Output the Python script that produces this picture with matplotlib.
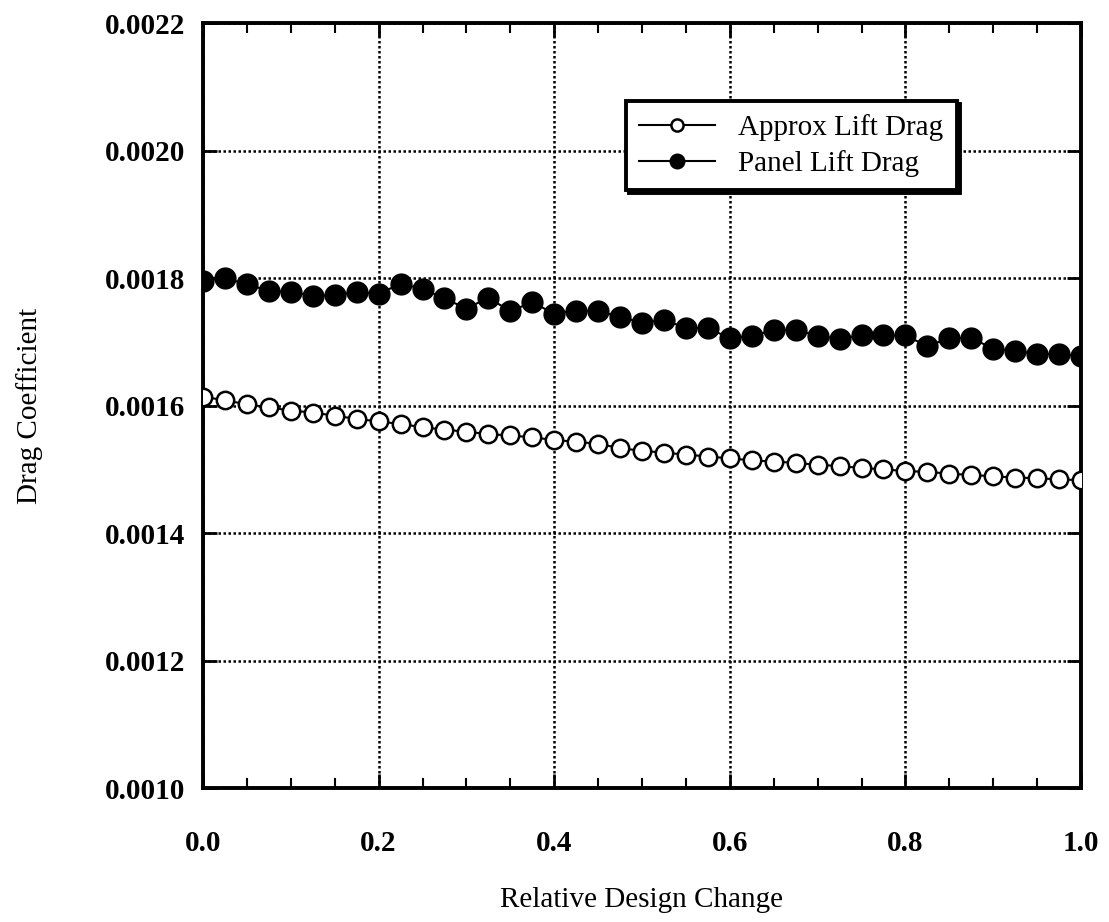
import numpy as np
import matplotlib
matplotlib.use("Agg")
from matplotlib import pyplot as plt
from matplotlib.ticker import MultipleLocator

# relative design change, 41 steps
x = np.linspace(0.0, 1.0, 41)

approx_lift_drag = [
    0.001614, 0.001608, 0.001602, 0.001597, 0.001592, 0.001589, 0.001584,
    0.001579, 0.001575, 0.001571, 0.001566, 0.001562, 0.001559, 0.001555,
    0.001553, 0.001550, 0.001546, 0.001543, 0.001540, 0.001533, 0.001529,
    0.001526, 0.001523, 0.001520, 0.001517, 0.001514, 0.001512, 0.001510,
    0.001507, 0.001505, 0.001502, 0.001500, 0.001497, 0.001496, 0.001493,
    0.001491, 0.001489, 0.001487, 0.001486, 0.001484, 0.001483,
]

panel_lift_drag = [
    0.001796, 0.001800, 0.001790, 0.001780, 0.001778, 0.001772, 0.001773,
    0.001778, 0.001775, 0.001791, 0.001783, 0.001768, 0.001752, 0.001769,
    0.001748, 0.001762, 0.001744, 0.001749, 0.001748, 0.001739, 0.001730,
    0.001734, 0.001722, 0.001721, 0.001706, 0.001709, 0.001718, 0.001719,
    0.001709, 0.001705, 0.001710, 0.001710, 0.001710, 0.001693, 0.001706,
    0.001706, 0.001689, 0.001686, 0.001681, 0.001681, 0.001677,
]

xticks = [0.0, 0.2, 0.4, 0.6, 0.8, 1.0]
yticks = [0.0010, 0.0012, 0.0014, 0.0016, 0.0018, 0.0020, 0.0022]

plt.rcParams['font.family'] = ['Liberation Serif', 'DejaVu Serif']
plt.rcParams['font.size'] = 21

fig = plt.figure(figsize=(11.09, 9.22), dpi=100)
ax = fig.add_axes([203/1109, 1-788/922, 878/1109, 765/922])

ax.plot(x, approx_lift_drag, color='black', lw=1.5, marker='o', ms=12.5,
        mfc='white', mec='black', mew=1.8, label='Approx Lift Drag', zorder=3)
ax.plot(x, panel_lift_drag, color='black', lw=1.5, marker='o', ms=15,
        mfc='black', mec='black', label='Panel Lift Drag', zorder=3)

ax.set_xlim(0, 1)
ax.set_ylim(0.0010, 0.0022)
ax.set_xticks(xticks)
ax.set_xticklabels([f"{t:.1f}" for t in xticks], fontweight='bold')
ax.set_yticks(yticks)
ax.set_yticklabels([f"{t:.4f}" for t in yticks], fontweight='bold')
ax.xaxis.set_minor_locator(MultipleLocator(0.05))

ax.grid(True, which='major', color='black', linestyle=(0, (1, 1)), lw=1.8)
ax.tick_params(which='major', direction='in', length=10, width=2,
               top=True, right=True)
ax.tick_params(axis='x', which='major', pad=30)
ax.tick_params(axis='y', which='major', pad=13)
ax.tick_params(which='minor', direction='in', length=7, width=1.5,
               top=True, right=False)
for s in ax.spines.values():
    s.set_linewidth(2.8)

ax.set_xlabel('Relative Design Change', labelpad=22)
ax.set_ylabel('Drag Coefficient', labelpad=44)

leg = ax.legend(loc='upper left', bbox_to_anchor=(0.482, 0.898),
                borderaxespad=0, fancybox=False, framealpha=1,
                edgecolor='black', handlelength=2.6, markerscale=0.7,
                shadow={'color': 'black', 'alpha': 1}, fontsize=21,
                labelspacing=0.3, borderpad=0.45, handletextpad=0.8)
leg.get_frame().set_linewidth(2.8)

fig.savefig("out.png", dpi=100)
